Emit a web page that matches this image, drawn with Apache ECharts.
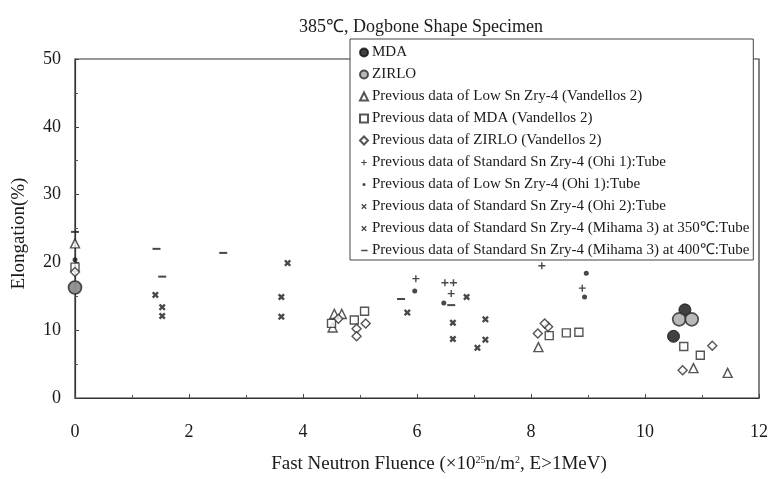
<!DOCTYPE html>
<html><head><meta charset="utf-8">
<script src="https://cdn.jsdelivr.net/npm/echarts@6/dist/echarts.min.js"></script>
<style>html,body{margin:0;padding:0;background:#fff}#c{width:771px;height:479px}</style>
</head><body><div id="c"></div>
<script>
// ---- data (x: fast neutron fluence ×10^25 n/m², y: elongation %) ----
var seriesNames = [
  'MDA',
  'ZIRLO',
  'Previous data of Low Sn Zry-4 (Vandellos 2)',
  'Previous data of MDA (Vandellos 2)',
  'Previous data of ZIRLO (Vandellos 2)',
  'Previous data of Standard Sn Zry-4 (Ohi 1):Tube',
  'Previous data of Low Sn Zry-4 (Ohi 1):Tube',
  'Previous data of Standard Sn Zry-4 (Ohi 2):Tube',
  'Previous data of Standard Sn Zry-4 (Mihama 3) at 350℃:Tube',
  'Previous data of Standard Sn Zry-4 (Mihama 3) at 400℃:Tube'
];
var mdaData = [[0, 16.3], [10.5, 9.1], [10.7, 13.0]];
var zirloData = [[0, 16.3], [10.6, 11.6], [10.82, 11.6]];
var lowSnVandellos = [[0, 22.8], [4.55, 12.4], [4.68, 12.4], [4.52, 10.4], [8.13, 7.5], [10.85, 4.4], [11.45, 3.7]];
var mdaVandellos = [[0, 19.3], [4.5, 11.0], [4.9, 11.5], [5.08, 12.8], [8.32, 9.2], [8.62, 9.6], [8.84, 9.7], [10.68, 7.6], [10.97, 6.3]];
var zirloVandellos = [[0, 18.6], [4.62, 11.7], [4.94, 10.2], [4.94, 9.1], [5.1, 11.0], [8.12, 9.5], [8.3, 10.5], [8.24, 11.0], [10.66, 4.1], [11.18, 7.7]];
var stdOhi1 = [[5.98, 17.6], [6.49, 17.0], [6.64, 17.0], [6.6, 15.4], [8.19, 19.5], [8.9, 16.2]];
var lowSnOhi1 = [[0, 20.4], [5.96, 15.8], [6.47, 14.0], [8.97, 18.4], [8.94, 14.9]];
var stdOhi2 = [[6.63, 11.1], [6.63, 8.7], [6.87, 14.9], [7.2, 11.6], [7.2, 8.6], [7.06, 7.4]];
var mihama350 = [[1.41, 15.2], [1.53, 13.4], [1.53, 12.1], [3.73, 19.9], [3.62, 14.9], [3.62, 12.0], [5.83, 12.6]];
var mihama400 = [[0, 24.5], [1.43, 22.0], [1.53, 17.9], [2.6, 21.4], [5.72, 14.6], [6.6, 13.7]];
var xTicks = [0, 2, 4, 6, 8, 10, 12];
var yTicks = [0, 10, 20, 30, 40, 50];

// ---- styling ----
var FONT = 'Liberation Serif';
var INK = '#1a1a1a';
var PLUS = 'path://M4,0H6V4H10V6H6V10H4V6H0V4H4Z';
var CROSS = 'path://M2.4,0L5,2.6L7.6,0L10,2.4L7.4,5L10,7.6L7.6,10L5,7.4L2.4,10L0,7.6L2.6,5L0,2.4Z';
var DASH_ICON = 'path://M0,0H0.01V0.01H0Z M1,4.2H9V5.8H1Z M0,10H0.01V9.99H0Z';
var DOT_ICON = 'path://M0,0H0.01V0.01H0Z M5,3A2,2 0 1,1 4.99,3Z M10,10H9.99V9.99H10Z';
var SMALL_PLUS_ICON = 'path://M0,0H0.01V0.01H0Z M4.3,1.5H5.7V4.3H8.5V5.7H5.7V8.5H4.3V5.7H1.5V4.3H4.3Z M10,10H9.99V9.99H10Z';
var SMALL_CROSS_ICON = 'path://M0,0H0.01V0.01H0Z M2.8,1.6L5,3.8L7.2,1.6L8.4,2.8L6.2,5L8.4,7.2L7.2,8.4L5,6.2L2.8,8.4L1.6,7.2L3.8,5L1.6,2.8Z M10,10H9.99V9.99H10Z';

var defs = [
  {data: mdaData, symbol: 'circle', size: 12, item: {color: '#111', borderColor: '#111', borderWidth: 1}},
  {data: zirloData, symbol: 'circle', size: 13, item: {color: '#a8a8a8', borderColor: '#2a2a2a', borderWidth: 1.7}},
  {data: lowSnVandellos, symbol: 'triangle', size: 9, item: {color: '#fff', borderColor: '#2a2a2a', borderWidth: 1.4}},
  {data: mdaVandellos, symbol: 'rect', size: 8, item: {color: '#fff', borderColor: '#2a2a2a', borderWidth: 1.4}},
  {data: zirloVandellos, symbol: 'diamond', size: 9, item: {color: '#fff', borderColor: '#2a2a2a', borderWidth: 1.4}},
  {data: stdOhi1, symbol: PLUS, size: 7, item: {color: '#1a1a1a'}, icon: SMALL_PLUS_ICON},
  {data: lowSnOhi1, symbol: 'circle', size: 5, item: {color: '#1a1a1a'}, icon: DOT_ICON},
  {data: stdOhi2, symbol: CROSS, size: 7, item: {color: '#1a1a1a'}, icon: SMALL_CROSS_ICON},
  {data: mihama350, symbol: CROSS, size: 7, item: {color: '#1a1a1a'}, icon: SMALL_CROSS_ICON},
  {data: mihama400, symbol: 'rect', size: [8, 2], item: {color: '#1a1a1a'}, icon: DASH_ICON}
];

var series = defs.map(function (d, i) {
  return {
    name: seriesNames[i], type: 'scatter', data: d.data,
    symbol: d.symbol, symbolSize: d.size, itemStyle: d.item,
    z: i < 2 ? 5 : 3
  };
});
var legendData = defs.map(function (d, i) {
  var o = {name: seriesNames[i]};
  if (d.icon) o.icon = d.icon;
  return o;
});

var chart = echarts.init(document.getElementById('c'));
chart.setOption({
  animation: false,
  backgroundColor: '#fff',
  textStyle: {fontFamily: FONT},
  title: {
    text: '385℃, Dogbone Shape Specimen', left: 416, top: 13, textAlign: 'center',
    textStyle: {fontFamily: FONT, fontSize: 18, fontWeight: 'normal', color: INK}
  },
  legend: {
    orient: 'vertical', left: 350, top: 39, data: legendData,
    itemWidth: 8, itemHeight: 8, itemGap: 7,
    padding: [6, 4, 2, 9],
    backgroundColor: '#fff', borderColor: '#444', borderWidth: 1,
    textStyle: {fontFamily: FONT, fontSize: 15, lineHeight: 15, color: INK, padding: [0, 0, 0, -1]},
    selectedMode: false
  },
  grid: {left: 75, right: 8, top: 59, bottom: 81, show: true, borderColor: '#333', borderWidth: 1.2, backgroundColor: 'transparent'},
  xAxis: {
    type: 'value', min: xTicks[0], max: xTicks[xTicks.length - 1], interval: 2,
    name: 'Fast Neutron Fluence (×10{sup|25}n/m{sup|2}, E>1MeV)',
    nameLocation: 'middle', nameGap: 57,
    nameTextStyle: {fontFamily: FONT, fontSize: 19, color: INK, padding: [0, 0, 0, 44],
      rich: {sup: {fontFamily: FONT, fontSize: 10, verticalAlign: 'top', padding: [0, 0, 9, 0], color: INK}}},
    axisLine: {lineStyle: {color: '#333', width: 1.2}},
    axisTick: {inside: true, length: 4, lineStyle: {color: '#444'}},
    minorTick: {show: true, splitNumber: 2, length: 3, lineStyle: {color: '#555'}},
    splitLine: {show: false},
    axisLabel: {margin: 25, fontFamily: FONT, fontSize: 18, color: INK}
  },
  yAxis: {
    type: 'value', min: yTicks[0], max: yTicks[yTicks.length - 1], interval: 10,
    name: 'Elongation(%)', nameLocation: 'middle', nameGap: 46,
    nameTextStyle: {fontFamily: FONT, fontSize: 19, color: INK, padding: [0, 10, 0, 0]},
    axisLine: {lineStyle: {color: '#333', width: 1.2}},
    axisTick: {inside: true, length: 4, lineStyle: {color: '#444'}},
    minorTick: {show: true, splitNumber: 2, length: 3, lineStyle: {color: '#555'}},
    splitLine: {show: false},
    axisLabel: {margin: 14, fontFamily: FONT, fontSize: 18, color: INK}
  },
  series: series
});
</script></body></html>
